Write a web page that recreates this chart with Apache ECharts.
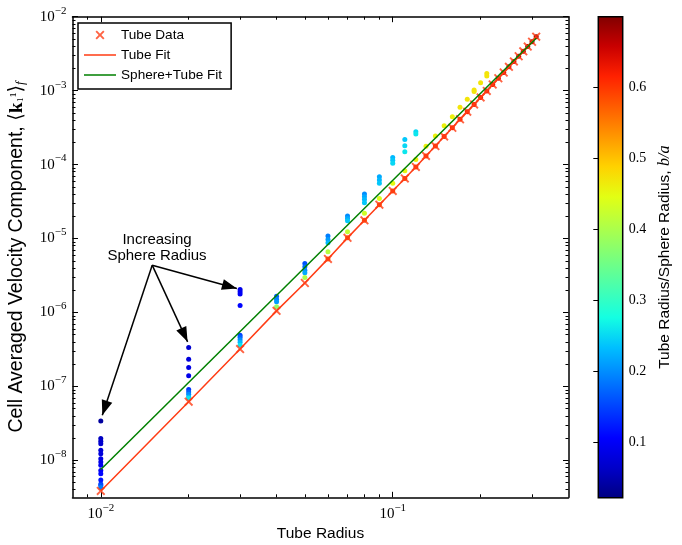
<!DOCTYPE html>
<html><head><meta charset="utf-8">
<script src="https://cdn.jsdelivr.net/npm/echarts@6/dist/echarts.min.js"></script>
<style>html,body{margin:0;padding:0;background:#fff}#c{width:682px;height:545px}</style>
</head><body><div id="c"></div>
<script>
// ---------------- data ----------------
const tubeX = [0.01,0.02,0.03,0.04,0.05,0.06,0.07,0.08,0.09,0.10,0.11,0.12,0.13,0.14,0.15,0.16,0.17,0.18,0.19,0.20,0.21,0.22,0.23,0.24,0.25,0.26,0.27,0.28,0.29,0.30,0.31];
const tubeY = [3.85e-9,6.2e-8,3.2e-7,1.05e-6,2.5e-6,5.3e-6,1.02e-5,1.76e-5,2.87e-5,4.4e-5,6.5e-5,9.3e-5,1.31e-4,1.78e-4,2.4e-4,3.15e-4,4.1e-4,5.2e-4,6.5e-4,8.1e-4,9.9e-4,1.21e-3,1.47e-3,1.76e-3,2.1e-3,2.48e-3,2.92e-3,3.4e-3,3.95e-3,4.58e-3,5.36e-3];
const tubeFitY = tubeY;
const sphereFitX = [0.01, 0.31];
const sphereFitY = [7.5e-9, 5.1e-3];

// sphere+tube data, grouped by tube radius (value, b/a)
const groupX = [0.01,0.02,0.03,0.04,0.05,0.06,0.07,0.08,0.09,0.10,0.11,0.12,0.13,0.14,0.15,0.16,0.17,0.18,0.19,0.20,0.21];
const groupY = [
  [3.4e-8,1.97e-8,1.81e-8,1.68e-8,1.37e-8,1.23e-8,1.05e-8,9.5e-9,8.6e-9,7.3e-9,6.6e-9,5.4e-9,4.8e-9,4.6e-9,4.3e-9],
  [3.36e-7,2.33e-7,1.80e-7,1.39e-7,9.1e-8,8.4e-8,7.8e-8,7.2e-8,6.9e-8],
  [2.05e-6,1.90e-6,1.77e-6,1.24e-6,4.93e-7,4.63e-7,4.28e-7,3.96e-7,3.61e-7],
  [1.66e-6,1.51e-6,1.39e-6,1.19e-6],
  [4.6e-6,4.14e-6,3.73e-6,3.43e-6,2.98e-6],
  [1.08e-5,9.7e-6,8.75e-6,6.6e-6],
  [2.01e-5,1.87e-5,1.74e-5,1.23e-5],
  [3.99e-5,3.67e-5,3.38e-5,3.04e-5,2.19e-5],
  [6.84e-5,6.17e-5,5.57e-5,3.47e-5],
  [1.25e-4,1.14e-4,1.04e-4,5.57e-5],
  [2.19e-4,1.8e-4,1.49e-4,8.24e-5],
  [2.78e-4,2.59e-4,1.17e-4],
  [1.77e-4],[2.43e-4],[3.35e-4],[4.43e-4],[5.94e-4],[7.62e-4],
  [1.02e-3,9.7e-4],[1.28e-3],[1.71e-3,1.58e-3]
];
const groupRatio = [
  [0.04,0.06,0.065,0.07,0.075,0.08,0.085,0.09,0.095,0.1,0.11,0.12,0.14,0.16,0.19],
  [0.07,0.08,0.085,0.09,0.14,0.17,0.2,0.23,0.26],
  [0.09,0.095,0.1,0.11,0.15,0.17,0.2,0.23,0.26],
  [0.17,0.19,0.21,0.38],
  [0.16,0.18,0.2,0.22,0.40],
  [0.19,0.21,0.23,0.41],
  [0.2,0.22,0.24,0.42],
  [0.2,0.22,0.23,0.24,0.43],
  [0.22,0.23,0.24,0.44],
  [0.23,0.24,0.25,0.45],
  [0.24,0.25,0.26,0.45],
  [0.25,0.26,0.46],
  [0.46],[0.46],[0.46],[0.46],[0.47],[0.47],
  [0.47,0.47],[0.47],[0.47,0.47]
];
// sphere+tube points lying on the tube curve (small spheres)
const onLineX = [0.06,0.07,0.08,0.09,0.10,0.11,0.12,0.13,0.14,0.15,0.16,0.17,0.18,0.19,0.20,0.21,0.22,0.23,0.24,0.25,0.26,0.27,0.28,0.29,0.30,0.31];
const onLineY = [5.3e-6,1.02e-5,1.76e-5,2.87e-5,4.4e-5,6.5e-5,9.3e-5,1.31e-4,1.78e-4,2.4e-4,3.15e-4,4.1e-4,5.2e-4,6.5e-4,8.1e-4,9.9e-4,1.21e-3,1.47e-3,1.76e-3,2.1e-3,2.48e-3,2.92e-3,3.4e-3,3.95e-3,4.58e-3,5.36e-3];
const onLineRatio = [0.57,0.57,0.58,0.58,0.59,0.59,0.6,0.6,0.6,0.61,0.61,0.61,0.62,0.62,0.62,0.63,0.63,0.64,0.64,0.65,0.65,0.66,0.67,0.68,0.69,0.7];

// annotation arrows (data coordinates): start -> tip
const arrowStart = [0.0150, 4.36e-6];
const arrowTips = [[0.01012, 4.07e-8],[0.01983, 4.0e-7],[0.02925, 2.11e-6]];

// axes
const xRange = [0.008, 0.4];
const yRange = [3.16e-9, 1e-2];
const xMajor = [0.01, 0.1];
const yMajor = [1e-8,1e-7,1e-6,1e-5,1e-4,1e-3,1e-2];
const cbRange = [0.022, 0.70];
const cbTicks = [0.1,0.2,0.3,0.4,0.5,0.6];
const jet = ['#000080','#0000c8','#0000ff','#0040ff','#0080ff','#00bfff','#14ffe2','#48ffaf','#7bff7b','#afff48','#e2ff14','#ffd200','#ff9700','#ff5c00','#ff2100','#c80000','#800000'];

// ---------------- build ----------------
function minors(lo, hi, e0, e1) {
  const out = [];
  for (let e = e0; e <= e1; e++) for (let m = 2; m <= 9; m++) {
    const v = Number((m * Math.pow(10, e)).toPrecision(3));
    if (v > lo * 1.0001 && v < hi * 0.9999) out.push(v);
  }
  return out;
}
const xMinor = minors(xRange[0], xRange[1], -3, -1);
const yMinor = minors(yRange[0], yRange[1], -9, -3);

const pts = [];
groupX.forEach((x, i) => groupY[i].forEach((y, j) => pts.push([x, y, groupRatio[i][j]])));
onLineX.forEach((x, i) => pts.push([x, onLineY[i], onLineRatio[i]]));

const SERIF = '"Liberation Serif", "DejaVu Serif", serif';
const SANS = '"Liberation Sans", Arial, "DejaVu Sans", sans-serif';
const RED = '#ff3c14', GREEN = '#008000';

function sciFmt(v) {
  const e = Math.round(Math.log10(v));
  return '{b|10}{e|' + (e < 0 ? '\u2212' : '') + Math.abs(e) + '}';
}
const sciRich = {
  b: {fontFamily: SERIF, fontSize: 15, color: '#000', padding: [4, 0, 4, 0], verticalAlign: 'bottom'},
  e: {fontFamily: SERIF, fontSize: 11, color: '#000', verticalAlign: 'top', lineHeight: 11}
};
const sciRichX = {
  b: {fontFamily: SERIF, fontSize: 15, color: '#000', padding: [4, 0, 0, 0], verticalAlign: 'bottom'},
  e: {fontFamily: SERIF, fontSize: 11, color: '#000', verticalAlign: 'top', lineHeight: 11}
};

function logAxis(pos, range, ticks, len, opts) {
  const o = {
    type: 'log', logBase: 10, gridIndex: 0, position: pos, min: range[0], max: range[1],
    splitLine: {show: false}, minorTick: {show: false}, minorSplitLine: {show: false},
    axisLine: {show: false, onZero: false},
    axisTick: {show: true, inside: true, length: len, customValues: ticks, lineStyle: {color: '#000', width: 1}},
    axisLabel: {show: false},
    axisPointer: {show: false}
  };
  return Object.assign(o, opts || {});
}
const frameLine = {show: true, onZero: false, lineStyle: {color: '#000', width: 1.5}};

const xAxes = [
  logAxis('bottom', xRange, xMajor, 5.5, {
    axisLine: frameLine,
    axisLabel: {show: true, customValues: xMajor, formatter: sciFmt, margin: 5, rich: sciRichX},
    name: 'Tube Radius', nameLocation: 'middle', nameGap: 27,
    nameTextStyle: {fontFamily: SANS, fontSize: 15.5, color: '#000'}
  }),
  logAxis('bottom', xRange, xMinor, 3),
  logAxis('top', xRange, xMajor, 5.5, {axisLine: frameLine}),
  logAxis('top', xRange, xMinor, 3),
  {type: 'value', gridIndex: 1, show: false, min: 0, max: 1}
];
const yAxes = [
  logAxis('left', yRange, yMajor, 5.5, {
    axisLine: frameLine,
    axisLabel: {show: true, customValues: yMajor, formatter: sciFmt, margin: 6, rich: sciRich},
    name: 'Cell Averaged Velocity Component, \u27E8{k|k}{s|\u2081\u00B9}\u27E9{f|f}',
    nameLocation: 'middle', nameGap: 45,
    nameTextStyle: {fontFamily: SANS, fontSize: 19.5, color: '#000',
      rich: {
        k: {fontFamily: SERIF, fontWeight: 'bold', fontSize: 19.5, color: '#000'},
        s: {fontFamily: SERIF, fontSize: 15, color: '#000'},
        f: {fontFamily: SERIF, fontStyle: 'italic', fontSize: 13, color: '#000', verticalAlign: 'bottom', padding: [9, 0, 0, 0]}
      }}
  }),
  logAxis('left', yRange, yMinor, 3),
  logAxis('right', yRange, yMajor, 5.5, {axisLine: frameLine}),
  logAxis('right', yRange, yMinor, 3),
  {
    type: 'value', gridIndex: 1, position: 'right', min: cbRange[0], max: cbRange[1],
    splitLine: {show: false}, axisLine: {show: false},
    axisTick: {show: true, inside: true, length: 5, customValues: cbTicks, lineStyle: {color: '#000', width: 1}},
    axisLabel: {show: true, customValues: cbTicks, margin: 6, formatter: v => v.toFixed(1),
      fontFamily: SERIF, fontSize: 14, color: '#000'},
    name: 'Tube Radius/Sphere Radius, {i|b/a}', nameLocation: 'middle', nameGap: 34,
    nameTextStyle: {fontFamily: SANS, fontSize: 15.5, color: '#000',
      rich: {i: {fontFamily: SERIF, fontStyle: 'italic', fontSize: 16, color: '#000'}}}
  }
];

const xPath = 'path://M0,1.5L1.5,0L5,3.5L8.5,0L10,1.5L6.5,5L10,8.5L8.5,10L5,6.5L1.5,10L0,8.5L3.5,5Z';
const legendXPath = 'path://M0,0L32,0M0,16L32,16M11.5,4.85L12.85,3.5L16,6.65L19.15,3.5L20.5,4.85L17.35,8L20.5,11.15L19.15,12.5L16,9.35L12.85,12.5L11.5,11.15L14.65,8Z';
const legendLinePath = 'path://M0,0L32,0M0,16L32,16M0,7.25L32,7.25L32,8.75L0,8.75Z';
const arrowPath = 'path://M-10,0L20,0M5,15L10.5,30L-0.5,30Z';

const option = {
  animation: false,
  backgroundColor: '#fff',
  textStyle: {fontFamily: SANS},
  grid: [
    {left: 72.5, top: 16.7, width: 496, height: 480.6, outerBoundsMode: 'none', containLabel: false},
    {left: 598.3, top: 16.7, width: 24.4, height: 481, show: true, outerBoundsMode: 'none',
      borderColor: '#000', borderWidth: 1.5,
      backgroundColor: {type: 'linear', x: 0, y: 1, x2: 0, y2: 0,
        colorStops: jet.map((c, i) => ({offset: i / (jet.length - 1), color: c}))}}
  ],
  xAxis: xAxes,
  yAxis: yAxes,
  visualMap: {type: 'continuous', show: false, min: cbRange[0], max: cbRange[1], dimension: 2, seriesIndex: 0,
    inRange: {color: jet}},
  legend: {
    orient: 'vertical', left: 78, top: 23, padding: [4, 9, 6, 6], itemGap: 4, itemWidth: 32, itemHeight: 16,
    borderColor: '#000', borderWidth: 1.5, borderRadius: 0, backgroundColor: '#fff', selectedMode: false,
    textStyle: {fontFamily: SANS, fontSize: 13.6, color: '#000'},
    data: [
      {name: 'Tube Data', icon: legendXPath},
      {name: 'Tube Fit', icon: legendLinePath},
      {name: 'Sphere+Tube Fit', icon: legendLinePath}
    ]
  },
  graphic: [{
    type: 'text', x: 157, y: 248, silent: true,
    style: {text: 'Increasing\nSphere Radius', align: 'center', verticalAlign: 'middle',
      fontFamily: SANS, fontSize: 15, lineHeight: 16, fill: '#000'}
  }],
  series: [
    {type: 'scatter', name: 'Sphere+Tube Data', xAxisIndex: 0, yAxisIndex: 0, data: pts,
      symbol: 'circle', symbolSize: 5, itemStyle: {opacity: 1}, z: 2, silent: true},
    {type: 'scatter', name: 'Tube Data', xAxisIndex: 0, yAxisIndex: 0,
      data: tubeX.map((x, i) => [x, tubeY[i]]), symbol: xPath, symbolSize: 9,
      itemStyle: {color: RED}, z: 3, silent: true},
    {type: 'line', name: 'Tube Fit', xAxisIndex: 0, yAxisIndex: 0,
      data: tubeX.map((x, i) => [x, tubeFitY[i]]), symbol: 'none', showSymbol: false,
      lineStyle: {color: RED, width: 1.5}, itemStyle: {color: RED}, z: 4, silent: true},
    {type: 'line', name: 'Sphere+Tube Fit', xAxisIndex: 0, yAxisIndex: 0,
      data: sphereFitX.map((x, i) => [x, sphereFitY[i]]), symbol: 'none', showSymbol: false,
      lineStyle: {color: GREEN, width: 1.5}, itemStyle: {color: GREEN}, z: 4, silent: true,
      markLine: {
        silent: true, animation: false, symbol: ['none', arrowPath], symbolSize: 30,
        lineStyle: {color: '#000', width: 1.5, type: 'solid'}, label: {show: false},
        emphasis: {disabled: true},
        data: arrowTips.map(t => [{coord: arrowStart}, {coord: t}])
      }}
  ]
};
const chart = echarts.init(document.getElementById('c'), null, {renderer: 'canvas'});
chart.setOption(option);
</script>
</body></html>
